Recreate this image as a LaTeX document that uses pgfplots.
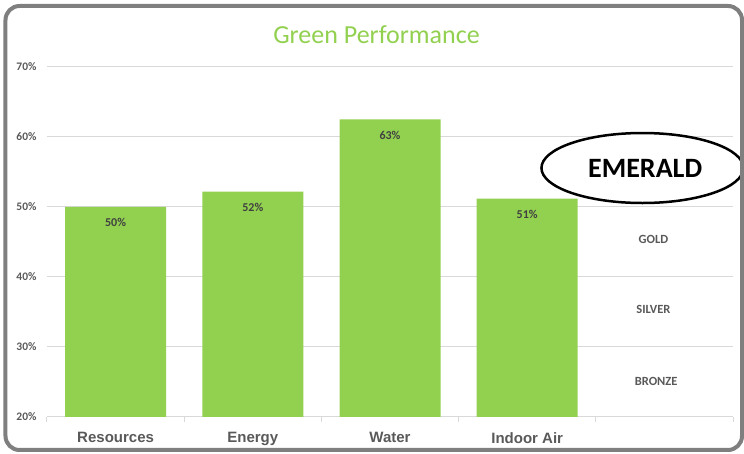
\documentclass[border=0pt]{standalone}
\usepackage{pgfplots}
\pgfplotsset{compat=1.18}
\usepackage{pgfplotstable}
\usepackage{fontspec}
\setmainfont{Carlito}
\newfontfamily\arialfont{Liberation Sans}
\definecolor{barg}{HTML}{92D050}
\definecolor{txtgray}{HTML}{595959}
\definecolor{lblc}{HTML}{404040}
\definecolor{gridc}{HTML}{D9D9D9}
\definecolor{framec}{HTML}{7F7F7F}

\pgfplotstableread{
x val lab
0 50.0 50
1 52.2 52
2 62.5 63
3 51.2 51
}\datatable

\begin{document}
\begin{tikzpicture}[x=1pt,y=1pt]
\begin{axis}[
  scale only axis, width=686pt, height=350pt,
  xmin=-0.5, xmax=4.5, ymin=20, ymax=70,
  ytick={20,30,40,50,60,70},
  yticklabels={20\%,30\%,40\%,50\%,60\%,70\%},
  ymajorgrids, grid style={gridc, line width=1pt},
  axis x line*=bottom, axis y line*=left,
  x axis line style={gridc, line width=1pt, -},
  y axis line style={draw=none},
  xtick={0,1,2,3}, xticklabels={Resources,Energy,Water,Indoor Air},
  major x tick style={draw=none},
  minor xtick={-0.5,0.5,1.5,2.5,3.5,4.5},
  minor x tick style={gridc, line width=1pt},
  tick align=outside, minor tick length=5pt, major tick length=0pt,
  ytick style={draw=none},
  yticklabel style={font=\bfseries\fontsize{11.5}{11.5}\selectfont, text=txtgray, anchor=east, xshift=-7pt},
  xticklabel style={font=\arialfont\bfseries\fontsize{15}{15}\selectfont, text=txtgray, anchor=north, yshift=-12pt},
  ybar, bar width=101pt,
  nodes near coords={\pgfplotspointmeta\%},
  point meta=explicit symbolic,
  nodes near coords style={anchor=north, yshift=-8pt, font=\bfseries\fontsize{12}{12}\selectfont, text=lblc},
  clip=false,
]
\addplot[fill=barg, draw=none] table[x=x, y=val, meta=lab]{\datatable};
\coordinate (O) at (rel axis cs:0,0);
\node[font=\bfseries\fontsize{12.5}{12.5}\selectfont, text=txtgray] at (axis cs:3.92,45.3) {GOLD};
\node[font=\bfseries\fontsize{12.5}{12.5}\selectfont, text=txtgray] at (axis cs:3.92,35.4) {SILVER};
\node[font=\bfseries\fontsize{12.5}{12.5}\selectfont, text=txtgray] at (axis cs:3.94,25.1) {BRONZE};
\draw[black, line width=2.5pt, fill=white] (axis cs:3.84,55.57) ellipse [x radius=101pt, y radius=35pt];
\node[font=\bfseries\fontsize{28}{28}\selectfont, text=black] at (axis cs:3.86,55.57) {EMERALD};
\end{axis}
\node[font=\fontsize{26}{26}\selectfont, text=barg] at ([shift={(329.5pt,382pt)}]O) {Green Performance};
\draw[framec, line width=4pt, rounded corners=14pt] ([shift={(-41.5pt,-33pt)}]O) rectangle ([shift={(695pt,411pt)}]O);
\pgfresetboundingbox
\path[use as bounding box] ([shift={(-47pt,-37pt)}]O) rectangle ([shift={(697pt,417pt)}]O);
\end{tikzpicture}
\end{document}
